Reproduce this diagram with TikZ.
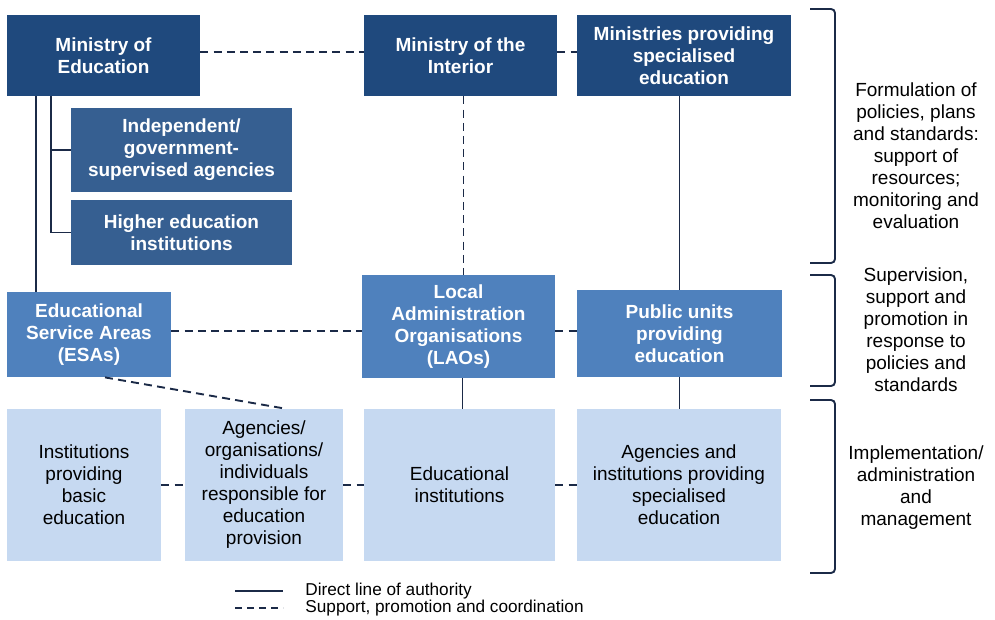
\documentclass[tikz,border=0pt]{standalone}
\usepackage{fontspec}
\setmainfont{Liberation Sans}
\usepackage{tikz}
\usetikzlibrary{positioning,calc}
\definecolor{edNavy}{HTML}{1F497D}
\definecolor{edSteel}{HTML}{365F91}
\definecolor{edMid}{HTML}{4F81BD}
\definecolor{edPale}{HTML}{C6D9F1}
\definecolor{edLine}{HTML}{1B2A47}

\tikzset{
  box/.style={rectangle, inner sep=0pt, align=center},
  ministry/.style={box, fill=edNavy, text=white, font=\fontsize{9.5}{11}\selectfont\bfseries},
  agency/.style={box, fill=edSteel, text=white, font=\fontsize{9.5}{11}\selectfont\bfseries},
  regional/.style={box, fill=edMid, text=white, font=\fontsize{9.5}{11}\selectfont\bfseries},
  provider/.style={box, fill=edPale, text=black, font=\fontsize{9.5}{11}\selectfont, minimum height=76pt},
  authority/.style={draw=edLine, line width=0.95pt},
  support/.style={draw=edLine, line width=0.95pt, dash pattern=on 4pt off 2.6pt},
  bracket/.style={draw=edLine, line width=0.95pt, rounded corners=2pt},
  levelnote/.style={align=center, font=\fontsize{9.5}{11}\selectfont},
  legendtxt/.style={anchor=west, inner sep=0pt, font=\fontsize{8.6}{9}\selectfont}
}

\begin{document}
\begin{tikzpicture}[x=0.5pt,y=-0.5pt]
  \useasboundingbox (0,0) rectangle (995,620);

  % ministries
  \node[ministry, minimum width=96.5pt, minimum height=40.5pt] (moe) at (103.5,55.5) {Ministry of\\Education};
  \node[ministry, minimum width=96.5pt, minimum height=40.5pt] (interior) at (460.5,55.5) {Ministry of the\\Interior};
  \node[ministry, minimum width=107pt, minimum height=40.5pt] (spec) at (684,55.5) {Ministries providing\\specialised\\education};

  % bodies under the ministry of education
  \node[agency, minimum width=110.5pt, minimum height=42pt] (indep) at (181.5,150) {Independent/\\government-\\supervised agencies};
  \node[agency, minimum width=110.5pt, minimum height=32.5pt] (higher) at (181.5,232.5) {Higher education\\institutions};

  % regional level
  \node[regional, minimum width=82pt, minimum height=42.5pt] (esa) at (89,334.5) {Educational\\Service Areas\\(ESAs)};
  \node[regional, minimum width=96.5pt, minimum height=51.5pt] (lao) at (458.5,326.5) {Local\\Administration\\Organisations\\(LAOs)};
  \node[regional, minimum width=102.5pt, minimum height=43.5pt] (public) at (679.5,333.5) {Public units\\providing\\education};

  % providers
  \node[provider, minimum width=77pt] (basic) at (84,485) {Institutions\\providing\\basic\\education};
  \node[provider, minimum width=79pt] (agorg) at (264,485) {Agencies/\\organisations/\\individuals\\responsible for\\education\\provision};
  \node[provider, minimum width=95.5pt] (eduinst) at (459.5,485) {Educational\\institutions};
  \node[provider, minimum width=102pt] (agspec) at (679,485) {Agencies and\\institutions providing\\specialised\\education};

  % branch points below the ministries
  \coordinate (moetrunk) at ($(moe.south west)+(29,0)$);
  \coordinate (moebranch) at ($(moe.south west)+(44,0)$);
  \coordinate (intdrop) at ($(interior.south)+(3,0)$);
  \coordinate (laodrop) at ($(lao.south)+(4,0)$);

  % direct lines of authority
  \draw[authority] (moetrunk) -- (moetrunk |- esa.north);
  \draw[authority] (moebranch) |- (indep.west);
  \draw[authority] (moebranch) |- (higher.west);
  \draw[authority] (public.north) -- (public.north |- spec.south);
  \draw[authority] (public.south) -- (public.south |- agspec.north);
  \draw[authority] (laodrop) -- (laodrop |- eduinst.north);

  % support and coordination
  \draw[support] (moe.east |- 0,52) -- (interior.west |- 0,52);
  \draw[support] (interior.east |- 0,52) -- (spec.west |- 0,52);
  \draw[support] (intdrop) -- (intdrop |- lao.north);
  \draw[support] (esa.east |- 0,331) -- (lao.west |- 0,331);
  \draw[support] (lao.east |- 0,331) -- (public.west |- 0,331);
  \draw[support] ($(esa.south)+(16,0)$) -- ($(agorg.north)+(21,0)$);
  \draw[support] (basic) -- (agorg);
  \draw[support] (agorg) -- (eduinst);
  \draw[support] (eduinst) -- (agspec);

  % levels
  \draw[bracket] (810,9) -- (835,9) -- (835,263) -- (810,263);
  \draw[bracket] (810,275) -- (835,275) -- (835,386) -- (810,386);
  \draw[bracket] (810,400) -- (835,400) -- (835,573) -- (810,573);
  \node[levelnote] (lvtop) at (916,156) {Formulation of\\policies, plans\\and standards:\\support of\\resources;\\monitoring and\\evaluation};
  \node[levelnote] (lvmid) at (916,330) {Supervision,\\support and\\promotion in\\response to\\policies and\\standards};
  \node[levelnote] (lvlow) at (916,488) {Implementation/\\administration\\and\\management};

  % legend
  \node[legendtxt] (lgsolid) at (305,591) {Direct line of authority};
  \node[legendtxt] (lgdash) at (305,608) {Support, promotion and coordination};
  \draw[authority] ($(lgsolid.west)+(-70,0)$) -- ++(48,0);
  \draw[support, dash pattern=on 3.5pt off 2.5pt] ($(lgdash.west)+(-70,0)$) -- ++(48,0);
\end{tikzpicture}
\end{document}
